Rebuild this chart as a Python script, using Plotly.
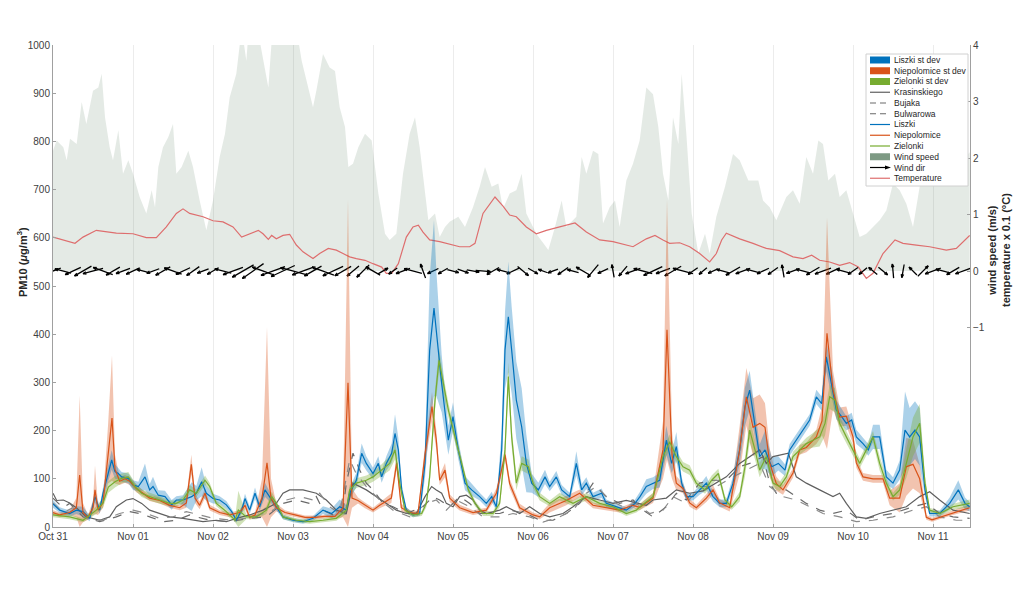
import numpy as np
import pandas as pd
import plotly.graph_objects as go

# ---------------- data (hours since Oct 31 00:00) ----------------
liszki_h = [0, 2, 5, 7, 9, 11, 12.6, 14, 15, 16.6,
            17.6, 18.6, 19.6, 20.6, 22.6, 24, 25.6, 27.6, 29, 30,
            31.6, 33.6, 35.6, 37, 39, 41.6, 43, 44.6, 46, 48,
            50, 52, 53.6, 55, 56.6, 57.6, 59, 60.6, 62, 63.6,
            65, 67, 69, 72, 75, 78, 81, 83.6, 86, 88,
            89, 91, 92.6, 94, 96, 97.6, 98.6, 100, 101.6, 102.6,
            103.6, 104.6, 106, 108, 110, 111.6, 113, 114.3, 115, 116.6,
            118.6, 120, 121.6, 123.6, 125.6, 128, 130, 131.6, 133, 134.6,
            135.6, 136.6, 137.6, 139, 140.6, 142, 143.6, 145.6, 147.6, 149,
            151, 152.6, 155, 157, 158.6, 160, 162, 164.6, 166, 169,
            172, 174.6, 176.1, 178, 180, 182, 184, 185.6, 187, 188.6,
            190, 192, 194, 196, 198, 200, 202, 204, 206, 207.6,
            209, 210.6, 212, 213.6, 215.6, 217.6, 219.6, 221, 223, 225,
            227, 229, 230.6, 232, 233.6, 235, 236.6, 238, 239.6, 241,
            243, 244.6, 246, 248, 250, 252, 254, 255.6, 257, 258.6,
            260, 261.6, 263, 266, 269, 271.6, 273.6, 275]
liszki_pm = [48, 35, 28, 35, 32, 18, 63, 35, 70, 111,
             139, 115, 111, 104, 101, 87, 84, 104, 77, 84,
             66, 63, 46, 56, 56, 63, 70, 94, 70, 59,
             56, 46, 32, 14, 35, 59, 35, 70, 42, 77,
             63, 42, 21, 14, 11, 18, 35, 28, 42, 35,
             70, 97, 153, 132, 111, 132, 104, 132, 153, 194,
             160, 77, 35, 25, 28, 132, 367, 454, 402, 298,
             180, 229, 160, 91, 77, 63, 49, 63, 42, 160,
             367, 436, 367, 263, 208, 132, 91, 77, 104, 84,
             104, 77, 63, 132, 77, 91, 63, 70, 49, 42,
             35, 49, 63, 84, 91, 97, 180, 132, 167, 91,
             63, 63, 77, 91, 63, 49, 49, 91, 160, 250,
             284, 215, 146, 160, 125, 132, 118, 160, 180, 201,
             222, 270, 256, 353, 298, 243, 229, 215, 222, 187,
             173, 160, 187, 187, 104, 91, 118, 201, 187, 201,
             187, 77, 28, 28, 49, 77, 49, 42]
liszki_sd = [8, 6, 6, 8, 10, 6, 12, 8, 12, 15,
             20, 15, 12, 10, 10, 10, 10, 28, 12, 20,
             10, 12, 10, 8, 10, 30, 15, 30, 15, 10,
             8, 8, 6, 5, 8, 10, 8, 12, 8, 15,
             10, 8, 5, 4, 4, 5, 8, 10, 15, 10,
             12, 15, 20, 15, 12, 15, 12, 15, 20, 40,
             25, 12, 6, 5, 5, 30, 150, 183, 130, 60,
             30, 30, 20, 15, 12, 8, 8, 10, 8, 40,
             80, 115, 90, 80, 80, 60, 20, 15, 15, 10,
             12, 10, 8, 25, 12, 12, 8, 10, 8, 6,
             6, 8, 10, 15, 12, 15, 30, 20, 30, 12,
             8, 8, 10, 15, 10, 8, 8, 15, 30, 40,
             40, 30, 25, 40, 20, 15, 12, 12, 12, 12,
             12, 15, 15, 30, 30, 20, 15, 15, 15, 15,
             12, 12, 25, 25, 15, 12, 20, 80, 60, 60,
             60, 15, 6, 6, 12, 20, 12, 10]

niep_h = [0, 2, 5, 7, 8, 9, 10.5, 12, 12.6, 13.5,
          15, 16.5, 17.7, 18.6, 20, 21.6, 23, 25, 27, 29,
          32, 35, 38, 40, 41.5, 42.6, 44, 45.6, 47, 50,
          53, 56, 57.6, 59, 60.6, 62.7, 64.2, 65.4, 67, 69.6,
          72.6, 75.6, 78.6, 81.6, 84.6, 87, 88.5, 89.7, 91.5, 93.6,
          96, 98, 101.5, 103.1, 104.5, 107, 109.5, 111.6, 113.7, 115,
          116, 117.6, 119, 122, 126, 130, 133, 135.6, 137, 140,
          144, 146, 149, 154, 158, 162, 166, 170, 174, 176,
          180, 183, 184.2, 185.7, 187, 189, 191, 193, 196, 198,
          200, 203, 206, 208, 210, 212, 213.6, 215, 217, 219,
          222, 224, 226, 229, 230.7, 232.2, 234, 236, 238, 240,
          241, 243, 246, 249, 251, 254, 256, 258, 260, 262,
          263.7, 266, 270, 275]
niep_pm = [30, 25, 30, 40, 108, 30, 20, 40, 77, 35,
           50, 150, 226, 120, 95, 100, 95, 80, 70, 60,
           55, 45, 40, 50, 130, 60, 45, 70, 40, 30,
           25, 30, 45, 20, 25, 60, 133, 60, 40, 30,
           25, 20, 20, 22, 22, 40, 299, 60, 55, 45,
           35, 45, 60, 133, 40, 30, 28, 150, 250, 180,
           97, 118, 60, 40, 30, 35, 70, 150, 90, 40,
           25, 21, 40, 55, 70, 45, 40, 35, 45, 41,
           60, 160, 409, 150, 91, 80, 50, 40, 60, 77,
           50, 40, 160, 270, 207, 215, 207, 133, 90, 77,
           112, 160, 165, 187, 220, 402, 284, 228, 230, 187,
           133, 104, 100, 100, 60, 60, 125, 130, 100, 20,
           15, 20, 30, 40]
niep_sd = [5, 5, 5, 20, 165, 20, 5, 15, 50, 10,
           10, 60, 130, 30, 8, 8, 8, 8, 6, 6,
           6, 5, 5, 10, 20, 10, 8, 10, 6, 5,
           5, 5, 8, 5, 5, 40, 282, 40, 8, 5,
           4, 4, 4, 4, 5, 20, 380, 20, 6, 6,
           5, 6, 10, 15, 8, 5, 5, 20, 30, 20,
           10, 15, 8, 6, 5, 5, 10, 12, 10, 8,
           5, 5, 10, 10, 8, 6, 6, 5, 6, 6,
           10, 60, 270, 50, 15, 10, 8, 6, 8, 10,
           8, 8, 50, 60, 60, 60, 50, 30, 15, 10,
           10, 10, 10, 15, 30, 240, 40, 20, 20, 15,
           10, 8, 8, 8, 15, 30, 60, 50, 30, 5,
           4, 4, 5, 6]

ziel_h = [0, 5, 9, 13, 15, 16.6, 18.6, 20.6, 22.6, 24.6,
          26.6, 29, 32, 35, 37, 39, 41, 43, 45.6, 47,
          49, 52, 54.6, 55.6, 58, 61, 64, 65.6, 67, 69,
          73, 77, 81, 85, 88, 89, 91, 94, 96, 98.6,
          101, 102.6, 104, 105.6, 108, 110.6, 112, 113, 114.6, 115.8,
          117, 118.6, 120.6, 122.6, 124.6, 126.6, 129, 132, 134, 135.6,
          136.6, 137.6, 139, 140.6, 142.6, 144, 146, 149, 152, 156,
          160, 164, 168, 172, 175, 176.1, 180, 183, 185, 187,
          189, 191, 193, 195.6, 197.6, 199.6, 201.6, 203.6, 206, 207.6,
          209, 210.6, 212, 214, 216, 218, 220, 222, 224, 226,
          228, 230, 231.6, 233, 234.6, 236, 238, 240, 242, 244,
          246, 248, 250, 252, 254, 256, 258, 260, 261.6, 263,
          266, 270, 275]
ziel_pm = [25, 21, 14, 35, 50, 83, 94, 101, 104, 84,
           70, 63, 56, 49, 49, 56, 77, 70, 97, 84,
           49, 32, 14, 35, 21, 21, 35, 63, 49, 21,
           14, 11, 14, 18, 35, 77, 91, 97, 104, 118,
           132, 160, 91, 35, 25, 28, 49, 104, 263, 346,
           298, 243, 187, 132, 77, 49, 28, 28, 49, 160,
           312, 187, 91, 132, 125, 91, 63, 49, 63, 49,
           63, 49, 42, 28, 35, 42, 63, 146, 177, 146,
           125, 118, 91, 77, 97, 111, 56, 42, 63, 125,
           201, 160, 118, 146, 91, 84, 104, 146, 160, 173,
           180, 187, 215, 270, 263, 215, 187, 160, 132, 160,
           187, 132, 91, 63, 77, 132, 187, 215, 91, 35,
           28, 42, 49]
ziel_sd = [5, 5, 4, 8, 10, 12, 12, 10, 10, 8,
           8, 8, 8, 6, 6, 8, 10, 8, 10, 8,
           6, 6, 4, 40, 5, 5, 8, 10, 6, 5,
           4, 4, 4, 5, 8, 10, 10, 10, 10, 12,
           15, 20, 10, 6, 5, 5, 8, 15, 20, 25,
           20, 15, 12, 10, 8, 6, 5, 5, 8, 20,
           30, 20, 15, 15, 15, 10, 8, 6, 8, 6,
           8, 6, 5, 5, 5, 6, 8, 15, 15, 12,
           10, 10, 8, 8, 10, 10, 8, 6, 10, 20,
           25, 20, 15, 15, 10, 10, 10, 10, 10, 12,
           15, 20, 25, 25, 25, 15, 12, 12, 10, 10,
           12, 15, 10, 8, 10, 30, 40, 40, 15, 5,
           5, 6, 8]

kras_h = [0, 1.1, 3.1, 5, 7, 10, 14, 17, 19, 22,
          24, 26.6, 29, 32, 35, 39, 42, 45, 49, 52,
          55, 59, 63, 67, 69, 71, 75, 79, 82, 85,
          88, 90, 94, 97, 100, 103, 106, 109, 111.6, 113.6,
          115, 116.6, 118, 120, 122, 124, 126, 128, 130, 134,
          136, 138, 140, 143, 146, 149, 153, 156, 160, 164,
          168, 172, 175, 178, 180, 184, 187, 191, 195, 199,
          202, 206, 209, 212, 214, 216, 218, 220.6, 223, 226,
          230, 234, 236, 238, 241, 244, 248, 252, 256, 260,
          263, 266, 270, 275]
kras_pm = [70, 55, 56, 50, 40, 21, 14, 21, 42, 56,
           59, 49, 35, 28, 21, 18, 14, 11, 14, 11,
           18, 25, 35, 49, 70, 77, 77, 70, 56, 35,
           28, 91, 77, 63, 49, 35, 28, 28, 63, 84,
           77, 70, 49, 42, 63, 66, 56, 35, 28, 35,
           42, 35, 28, 42, 28, 21, 28, 42, 63, 56,
           49, 55, 50, 45, 56, 60, 77, 70, 75, 91,
           104, 132, 146, 160, 132, 146, 149, 153, 104, 91,
           77, 63, 70, 49, 21, 18, 28, 35, 42, 63,
           73, 56, 35, 28]

bujaka_h = [0, 3, 5, 7, 9, 14, 19, 23, 26, 29,
            33, 37, 41, 43, 47, 53, 59, 64, 69, 73,
            77, 79, 81, 84, 87, 88, 90, 92, 94, 96,
            99, 102, 106, 111, 114, 116, 119, 122, 125, 128,
            134, 137, 142, 146, 150, 154, 158, 162, 166, 170,
            174, 177, 180, 184, 187, 190, 194, 198, 202, 206,
            209, 213, 215, 217, 220, 223, 226, 230, 234, 238,
            242, 246, 252, 258, 262, 266, 270, 275]
bujaka_pm = [60, 40, 49, 35, 21, 11, 21, 32, 28, 21,
             11, 14, 25, 21, 14, 11, 18, 21, 49, 56,
             49, 63, 35, 25, 35, 91, 153, 118, 91, 77,
             49, 42, 28, 42, 63, 56, 42, 63, 49, 28,
             28, 35, 28, 14, 14, 28, 49, 91, 63, 49,
             56, 35, 21, 42, 70, 56, 91, 97, 97, 125,
             132, 146, 91, 70, 77, 63, 49, 35, 28, 35,
             14, 21, 28, 42, 49, 28, 21, 18]

bulw_h = [0, 3, 6, 10, 15, 20, 24, 28, 32, 36,
          40, 44, 48, 54, 60, 66, 70, 74, 78, 80,
          83, 86, 89, 91, 94, 98, 102, 107, 112, 115,
          118, 121, 125, 129, 134, 138, 143, 147, 152, 156,
          160, 163, 167, 171, 175, 179, 183, 186, 190, 194,
          199, 204, 208, 212, 215, 219, 223, 227, 231, 236,
          241, 246, 252, 258, 262, 266, 271, 275]
bulw_pm = [50, 30, 40, 18, 14, 28, 35, 28, 18, 21,
           32, 25, 18, 14, 21, 35, 56, 63, 56, 70,
           42, 28, 140, 110, 84, 56, 35, 21, 49, 56,
           35, 56, 42, 21, 21, 28, 21, 10, 21, 35,
           70, 84, 56, 42, 49, 28, 35, 63, 49, 84,
           84, 104, 118, 132, 84, 63, 56, 42, 28, 21,
           11, 14, 21, 35, 42, 21, 14, 14]

wind_h = [0, 1.1, 3.1, 4.1, 5.1, 7.1, 8.6, 10, 12, 13.6,
          14.6, 15.6, 17, 18, 19.6, 21, 22.6, 24, 26, 28,
          29.6, 30.6, 31.6, 33, 34.6, 36, 37, 38.6, 40.6, 42,
          44, 46, 48, 50, 51.6, 53, 55, 56.6, 58, 59,
          61, 63, 64.6, 66, 68, 70, 73, 74.6, 76, 78,
          79, 81, 83, 84.6, 86, 87.6, 88.6, 90, 91.6, 93.6,
          95.6, 97.6, 99.6, 101, 103, 105, 107, 108.6, 110, 111.6,
          112.6, 114.6, 116, 117.6, 119, 121.6, 123.6, 126, 128, 129.6,
          131.6, 133.6, 135, 137, 139, 140.6, 142, 145, 148.6, 150.6,
          152.6, 154, 157, 158.6, 160, 162, 163.6, 165, 167, 168.6,
          170, 172, 174, 176, 178, 180, 181.6, 183, 184.6, 186,
          187.6, 188.6, 190, 191.6, 193.6, 195.6, 197, 199, 201.6, 204,
          206, 208.6, 211.6, 213, 215, 217, 220, 222, 224, 226,
          228, 229.6, 231, 232.6, 234.6, 236, 238, 240, 242, 244,
          246, 248, 250, 252, 254, 256, 258, 260, 262, 264,
          266, 268, 270, 272, 275]
wind_speed = [2.13, 2.31, 2.19, 1.96, 2.34, 2.25, 2.99, 2.60, 3.19, 3.25,
              3.49, 2.72, 2.19, 1.96, 2.49, 1.72, 1.96, 1.72, 1.31, 1.02,
              1.43, 1.13, 1.84, 2.19, 2.37, 2.60, 1.72, 1.84, 2.13, 1.84,
              1.25, 0.72, 1.25, 2.02, 2.43, 3.07, 3.49, 4.3, 3.72, 4.5,
              4.4, 3.72, 3.25, 4.4, 4.8, 4.6, 4.3, 3.72, 3.37, 2.9,
              3.19, 3.84, 3.6, 3.54, 2.9, 2.55, 1.84, 1.9, 2.19, 2.43,
              2.31, 1.37, 0.66, 0.55, 0.66, 1.72, 2.43, 2.72, 2.19, 1.43,
              0.9, 1.02, 0.6, 0.78, 0.87, 0.96, 0.78, 1.13, 1.49, 1.84,
              1.49, 1.55, 1.1, 1.37, 1.43, 1.72, 1.02, 0.66, 0.37, 0.78,
              1.25, 0.78, 0.96, 2.02, 1.72, 2.13, 2.07, 0.84, 1.13, 1.25,
              0.78, 1.6, 1.9, 2.31, 3.25, 3.13, 2.55, 1.72, 1.25, 2.72,
              2.25, 3.49, 2.43, 1.02, 0.31, 0.66, 0.31, 0.96, 1.49, 2.07,
              1.96, 1.6, 1.6, 1.25, 1.13, 0.9, 1.31, 1.43, 1.19, 2.02,
              1.72, 2.31, 2.25, 1.6, 1.72, 1.31, 1.43, 1.02, 0.6, 0.66,
              0.78, 0.9, 1.07, 1.55, 1.43, 1.19, 0.78, 1.49, 1.84, 2.13,
              1.84, 1.5, 1.6, 1.9, 2.1]

temp_h = [0, 3.1, 6.6, 9, 13, 19, 24, 28, 31, 34,
          37, 39, 41, 45, 48, 51, 54, 56.6, 59, 61.6,
          63, 64.6, 65.6, 67, 69, 71, 73, 75, 78, 80,
          82.6, 85, 87, 89, 91, 93.6, 96, 98.6, 100, 101.6,
          103.6, 106, 108, 109.6, 111, 113, 116, 119, 122, 125,
          126.6, 129, 132.6, 135, 137, 139, 142, 145, 148, 152,
          156.6, 160, 164, 168, 174, 178, 180.6, 183, 185, 188,
          191, 194, 197, 199, 200.6, 202, 206, 210, 214, 218,
          222, 225, 227.6, 230, 233, 236, 239, 241.6, 244, 246,
          249, 252.6, 255, 259, 263, 268, 271, 275]
temp_scaled = [0.6, 0.55, 0.49, 0.6, 0.72, 0.67, 0.66, 0.59, 0.59, 0.78,
               1.02, 1.10, 1.02, 0.96, 0.89, 0.87, 0.78, 0.6, 0.66, 0.72,
               0.66, 0.56, 0.63, 0.57, 0.63, 0.65, 0.46, 0.34, 0.22, 0.31,
               0.4, 0.37, 0.31, 0.25, 0.22, 0.19, 0.13, 0.07, -0.04, -0.04,
               0.13, 0.6, 0.78, 0.81, 0.69, 0.55, 0.52, 0.47, 0.43, 0.43,
               0.49, 1.02, 1.31, 1.15, 0.99, 0.96, 0.78, 0.66, 0.72, 0.78,
               0.85, 0.69, 0.55, 0.52, 0.43, 0.57, 0.63, 0.55, 0.49, 0.5,
               0.43, 0.31, 0.16, 0.31, 0.55, 0.67, 0.57, 0.49, 0.4, 0.36,
               0.25, 0.22, 0.28, 0.19, 0.16, 0.1, 0.15, 0.07, -0.13, -0.04,
               0.31, 0.55, 0.49, 0.46, 0.43, 0.37, 0.4, 0.63]

dir_h = list(range(0, 276, 3))
dir_deg = [200, 165, 205, 210, 195, 160, 210, 200,
           205, 165, 200, 210, 160, 205, 215, 200,
           210, 165, 200, 210, 215, 160, 200, 205,
           165, 200, 210, 160, 205, 210, 220, 225,
           150, 30, 215, 200, 165, 110, 205, 210,
           345, 340, 350, 355, 210, 165, 205, 320,
           330, 160, 200, 215, 165, 150, 230, 205,
           100, 230, 200, 165, 205, 200, 210, 165,
           215, 220, 205, 165, 210, 200, 165, 205,
           215, 100, 200, 165, 210, 200, 205, 165,
           215, 220, 140, 320, 95, 260, 135, 45,
           200, 165, 210, 200]

# ---------------- helpers ----------------
BASE = pd.Timestamp("2017-10-31 00:00")


def to_time(hours):
    return [None if h is None else BASE + pd.Timedelta(hours=float(h)) for h in hours]


C_BLUE, C_ORANGE, C_GREEN = "#0072BD", "#D95319", "#77AC30"
C_TEMP = "#DE6E6E"

fig = go.Figure()

# wind speed (right axis, primary y so PM traces render on top)
fig.add_trace(go.Scatter(x=to_time(wind_h), y=wind_speed, yaxis="y", mode="lines",
                         line=dict(width=0, color="rgba(0,0,0,0)"), fill="tozeroy",
                         fillcolor="rgba(120,150,125,0.2)", hoverinfo="skip"))
fig.add_trace(go.Scatter(x=to_time(temp_h), y=temp_scaled, yaxis="y", mode="lines",
                         line=dict(width=1.2, color=C_TEMP), hoverinfo="skip"))

# wind direction arrows (quiver-like, centred on the zero line)
H_PER_PX = 24 / 80.0
W_PER_PX = 1 / 56.5
spd_at = np.interp(dir_h, wind_h, wind_speed)
ax, ay = [], []
for h, a, s in zip(dir_h, dir_deg, spd_at):
    L = 8 + 4.0 * min(s, 4.5)
    t = np.radians(a)
    dx = L * np.cos(t) * H_PER_PX
    dy = L * np.sin(t) * W_PER_PX
    xs, ys = h - dx / 2, -dy / 2
    x1, y1 = h + dx / 2, dy / 2
    ax += [xs, x1, None]
    ay += [ys, y1, None]
    for d in (160, -160):
        b = t + np.radians(d)
        ax += [x1, x1 + 3.5 * np.cos(b) * H_PER_PX, None]
        ay += [y1, y1 + 3.5 * np.sin(b) * W_PER_PX, None]
fig.add_trace(go.Scatter(x=to_time(ax), y=ay, yaxis="y", mode="lines",
                         line=dict(width=1.3, color="black"), hoverinfo="skip",
                         connectgaps=False))


def band(h, v, sd, rgba):
    up = [a + b for a, b in zip(v, sd)]
    lo = [max(a - b, 0) for a, b in zip(v, sd)]
    fig.add_trace(go.Scatter(x=to_time(h) + to_time(h[::-1]), y=up + lo[::-1], yaxis="y2",
                             mode="lines", fill="toself", fillcolor=rgba,
                             line=dict(width=0, color="rgba(0,0,0,0)"), hoverinfo="skip"))


band(niep_h, niep_pm, niep_sd, "rgba(217,83,25,0.35)")
band(liszki_h, liszki_pm, liszki_sd, "rgba(0,114,189,0.33)")
band(ziel_h, ziel_pm, ziel_sd, "rgba(119,172,48,0.35)")

for h, v, col, dash in [(kras_h, kras_pm, "#5f5f5f", "solid"),
                        (bujaka_h, bujaka_pm, "#6a6a6a", "dash"),
                        (bulw_h, bulw_pm, "#8a8a8a", "dash")]:
    fig.add_trace(go.Scatter(x=to_time(h), y=v, yaxis="y2", mode="lines",
                             line=dict(width=1.2, color=col, dash=dash), hoverinfo="skip"))
for h, v, col in [(liszki_h, liszki_pm, C_BLUE), (niep_h, niep_pm, C_ORANGE),
                  (ziel_h, ziel_pm, C_GREEN)]:
    fig.add_trace(go.Scatter(x=to_time(h), y=v, yaxis="y2", mode="lines",
                             line=dict(width=1.2, color=col), hoverinfo="skip"))

# ---------------- layout ----------------
# page body has an 8px margin, so the plot area is offset by 8px in the photo
AX = "#a0a0a0"
fig.update_layout(
    width=1024, height=592,
    margin=dict(l=45, r=62, t=37, b=73, autoexpand=False),
    paper_bgcolor="white", plot_bgcolor="white",
    showlegend=False,
    font=dict(family="Liberation Sans, Arial, sans-serif", size=10, color="#404040"),
    xaxis=dict(type="date", range=[BASE, BASE + pd.Timedelta(hours=275.1)],
               tickformat="%b %d", tick0=BASE, dtick=86400000,
               showgrid=True, gridcolor="#ececec", gridwidth=1,
               ticks="inside", ticklen=3, tickcolor=AX, automargin=False,
               showline=True, linecolor=AX, zeroline=False),
    yaxis=dict(range=[-4.53, 4], side="right", tickvals=[-1, 0, 1, 2, 3, 4],
               showgrid=False, zeroline=False, showline=True, linecolor=AX,
               ticks="inside", ticklen=3, tickcolor=AX, automargin=False),
    yaxis2=dict(range=[0, 1000], side="left", overlaying="y", dtick=100, tick0=0,
                showgrid=False, zeroline=False, showline=True, linecolor=AX,
                ticks="inside", ticklen=3, tickcolor=AX, automargin=False),
)


def P(px, py):
    return (px - 53) / 917.0, (527 - py) / 482.0


annotations = []
x_, y_ = P(22, 262)
annotations.append(dict(x=x_, y=y_, xref="paper", yref="paper", showarrow=False, textangle=-90,
                        xanchor="center", yanchor="middle",
                        text="<b>PM10 (<i>μ</i>g/m<sup>3</sup>)</b>",
                        font=dict(size=11, color="#262626")))
x_, y_ = P(999, 250)
annotations.append(dict(x=x_, y=y_, xref="paper", yref="paper", showarrow=False, textangle=-90,
                        xanchor="center", yanchor="middle",
                        text="<b>wind speed (m/s)<br>temperature x 0.1 (°C)</b>",
                        font=dict(size=11, color="#262626")))

# custom legend
shapes = []
x0, y0 = P(866, 54)
x1, y1 = P(968, 186)
shapes.append(dict(type="rect", xref="paper", yref="paper", x0=x0, y0=y1, x1=x1, y1=y0,
                   fillcolor="white", line=dict(color="#d0d0d0", width=1), layer="above"))
entries = [("Liszki st dev", "patch", C_BLUE, None),
           ("Niepolomice st dev", "patch", C_ORANGE, None),
           ("Zielonki st dev", "patch", C_GREEN, None),
           ("Krasinskiego", "line", "#5f5f5f", "solid"),
           ("Bujaka", "line", "#6a6a6a", "dash"),
           ("Bulwarowa", "line", "#6a6a6a", "dash"),
           ("Liszki", "line", C_BLUE, "solid"),
           ("Niepolomice", "line", C_ORANGE, "solid"),
           ("Zielonki", "line", C_GREEN, "solid"),
           ("Wind speed", "patch", "#7E9A84", None),
           ("Wind dir", "arrow", "black", "solid"),
           ("Temperature", "line", C_TEMP, "solid")]
for i, (label, kind, col, dash) in enumerate(entries):
    py = 60 + 10.75 * i
    if kind == "patch":
        a0, b0 = P(870, py - 3.5)
        a1, b1 = P(890, py + 3.5)
        shapes.append(dict(type="rect", xref="paper", yref="paper", x0=a0, y0=b1, x1=a1, y1=b0,
                           fillcolor=col, line=dict(width=0), layer="above"))
    else:
        a0, b0 = P(870, py)
        a1, _ = P(890 if kind == "line" else 886, py)
        shapes.append(dict(type="line", xref="paper", yref="paper", x0=a0, y0=b0, x1=a1, y1=b0,
                           line=dict(color=col, width=1.2,
                                     dash="6px,4px" if dash == "dash" else "solid"),
                           layer="above"))
        if kind == "arrow":
            p1 = P(891, py)
            p2 = P(885, py - 2)
            p3 = P(885, py + 2)
            shapes.append(dict(type="path", xref="paper", yref="paper",
                               path=f"M{p1[0]},{p1[1]} L{p2[0]},{p2[1]} L{p3[0]},{p3[1]} Z",
                               fillcolor="black", line=dict(width=0), layer="above"))
    tx, ty = P(892, py)
    annotations.append(dict(x=tx, y=ty, xref="paper", yref="paper", showarrow=False,
                            xanchor="left", yanchor="middle", text=label,
                            font=dict(size=8.5, color="#262626")))

fig.update_layout(shapes=shapes, annotations=annotations)
fig.write_html("out.html")
